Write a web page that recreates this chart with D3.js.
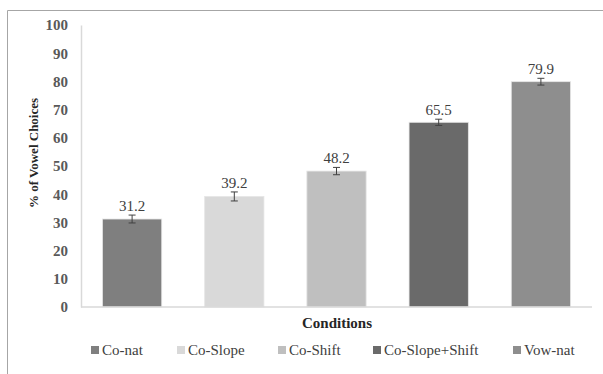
<!DOCTYPE html>
<html>
<head>
<meta charset="utf-8">
<script src="https://cdn.jsdelivr.net/npm/d3@7"></script>
<style>
  body { margin: 0; background: #fff; }
  svg text { font-family: "Liberation Serif", Tinos, "Times New Roman", Times, "DejaVu Serif", serif; }
</style>
</head>
<body>
<svg width="603" height="374"></svg>
<script>
const conditions = ["Co-nat", "Co-Slope", "Co-Shift", "Co-Slope+Shift", "Vow-nat"];
const means = [31.2, 39.2, 48.2, 65.5, 79.9];
const errors = [1.4, 1.6, 1.3, 1.1, 1.2];
const colors = ["#7f7f7f", "#d9d9d9", "#bfbfbf", "#6a6a6a", "#8e8e8e"];
const yTicks = [0, 10, 20, 30, 40, 50, 60, 70, 80, 90, 100];

const data = conditions.map((c, i) => ({ cond: c, mean: means[i], err: errors[i], color: colors[i] }));

const FONT = "'Liberation Serif', Tinos, 'Times New Roman', Times, 'DejaVu Serif', serif";

const svg = d3.select("svg");
const margin = { top: 25, left: 81, right: 11, bottom: 67 };
const width = 603 - margin.left - margin.right,
      height = 374 - margin.top - margin.bottom;

// outer frame (runs past the right and bottom edges)
svg.append("path")
  .attr("d", "M7.5,400 V10.5 H610")
  .attr("fill", "none")
  .attr("stroke", "#a6a6a6")
  .attr("stroke-width", 1);

const chart = svg.append("g")
  .attr("transform", `translate(${margin.left},${margin.top})`);

const x = d3.scaleBand()
  .domain(conditions)
  .range([0, width])
  .paddingInner(0.42)
  .paddingOuter(0.21);

const y = d3.scaleLinear()
  .domain([0, 100])
  .range([height, 0]);

// y axis
const yAxis = chart.append("g")
  .call(d3.axisLeft(y).tickValues(yTicks).tickSize(0).tickPadding(13))
  .attr("font-family", FONT);
yAxis.select(".domain").attr("stroke", "#d9d9d9").attr("stroke-width", 1.5);
yAxis.selectAll("text")
  .attr("fill", "#595959")
  .attr("font-size", 15)
  .attr("font-weight", "bold")
  .style("font-family", FONT);

// bars
chart.selectAll("rect.bar")
  .data(data)
  .enter()
  .append("rect")
  .attr("class", "bar")
  .attr("x", d => x(d.cond))
  .attr("y", d => y(d.mean))
  .attr("width", x.bandwidth())
  .attr("height", d => height - y(d.mean))
  .attr("fill", d => d.color)
  .attr("stroke", "#e6e6e6")
  .attr("stroke-width", 0.8);

// x baseline
chart.append("line")
  .attr("x1", 0).attr("x2", width)
  .attr("y1", height).attr("y2", height)
  .attr("stroke", "#d9d9d9")
  .attr("stroke-width", 1.5);

// error bars
const eb = chart.selectAll("g.err")
  .data(data)
  .enter()
  .append("g")
  .attr("class", "err")
  .attr("stroke", "#404040")
  .attr("stroke-width", 1);
eb.append("line")
  .attr("x1", d => x(d.cond) + x.bandwidth() / 2)
  .attr("x2", d => x(d.cond) + x.bandwidth() / 2)
  .attr("y1", d => y(d.mean + d.err))
  .attr("y2", d => y(d.mean - d.err));
[1, -1].forEach(s => {
  eb.append("line")
    .attr("x1", d => x(d.cond) + x.bandwidth() / 2 - 3.5)
    .attr("x2", d => x(d.cond) + x.bandwidth() / 2 + 3.5)
    .attr("y1", d => y(d.mean + s * d.err))
    .attr("y2", d => y(d.mean + s * d.err));
});

// value labels
chart.selectAll("text.label")
  .data(data)
  .enter()
  .append("text")
  .attr("class", "label")
  .attr("x", d => x(d.cond) + x.bandwidth() / 2)
  .attr("y", d => y(d.mean + d.err) - 4)
  .attr("text-anchor", "middle")
  .attr("font-size", 15)
  .attr("fill", "#404040")
  .style("font-family", FONT)
  .text(d => d.mean.toFixed(1));

// axis titles
svg.append("text")
  .attr("transform", "rotate(-90)")
  .attr("x", -153)
  .attr("y", 38)
  .attr("text-anchor", "middle")
  .attr("font-size", 13)
  .attr("font-weight", "bold")
  .attr("fill", "#262626")
  .style("font-family", FONT)
  .text("% of Vowel Choices");

svg.append("text")
  .attr("x", 337)
  .attr("y", 328)
  .attr("text-anchor", "middle")
  .attr("font-size", 15)
  .attr("font-weight", "bold")
  .attr("fill", "#262626")
  .style("font-family", FONT)
  .text("Conditions");

// legend
const legendX = [91, 177, 278, 373, 513];
const legend = svg.selectAll("g.legend")
  .data(data)
  .enter()
  .append("g")
  .attr("class", "legend")
  .attr("transform", (d, i) => `translate(${legendX[i]},350)`);
legend.append("rect")
  .attr("x", 0).attr("y", -4)
  .attr("width", 8).attr("height", 8)
  .attr("fill", d => d.color);
legend.append("text")
  .attr("x", 11)
  .attr("y", 5)
  .attr("font-size", 15)
  .attr("fill", "#404040")
  .style("font-family", FONT)
  .text(d => d.cond);
</script>
</body>
</html>
